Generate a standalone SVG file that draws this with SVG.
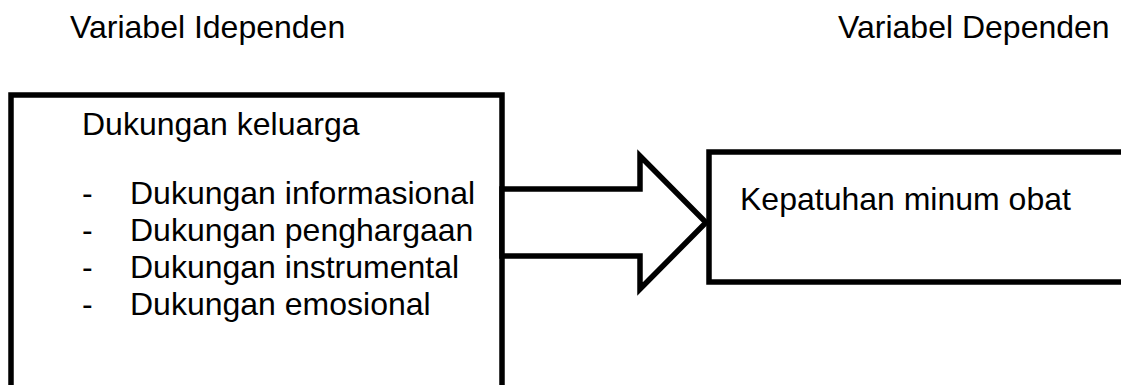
<svg xmlns="http://www.w3.org/2000/svg" width="1121" height="385" viewBox="0 0 1121 385">
  <style>
    .t { font-family: "Liberation Sans", Arial, sans-serif; font-size: 32px; fill: #000; }
    .frame { fill: #fff; stroke: #000; stroke-width: 5.5; }
  </style>
  <rect width="1121" height="385" fill="#fff"/>

  <text class="t" x="70" y="38">Variabel Idependen</text>
  <text class="t" x="838" y="38">Variabel Dependen</text>

  <g id="node-dukungan">
    <rect class="frame" x="11" y="95" width="491" height="320"/>
    <text class="t" x="82" y="135">Dukungan keluarga</text>
    <text class="t" x="82" y="204">-</text>
    <text class="t" x="130" y="204">Dukungan informasional</text>
    <text class="t" x="82" y="241">-</text>
    <text class="t" x="130" y="241">Dukungan penghargaan</text>
    <text class="t" x="82" y="278">-</text>
    <text class="t" x="130" y="278">Dukungan instrumental</text>
    <text class="t" x="82" y="315">-</text>
    <text class="t" x="130" y="315">Dukungan emosional</text>
  </g>

  <g id="node-kepatuhan">
    <rect class="frame" x="709" y="152" width="440" height="130"/>
    <text class="t" x="740" y="210">Kepatuhan minum obat</text>
  </g>

  <g id="connectors">
    <path class="frame" d="M502 189 L640 189 L640 156 L706 222.5 L640 289 L640 256 L502 256 Z" stroke-linejoin="miter"/>
  </g>
</svg>
